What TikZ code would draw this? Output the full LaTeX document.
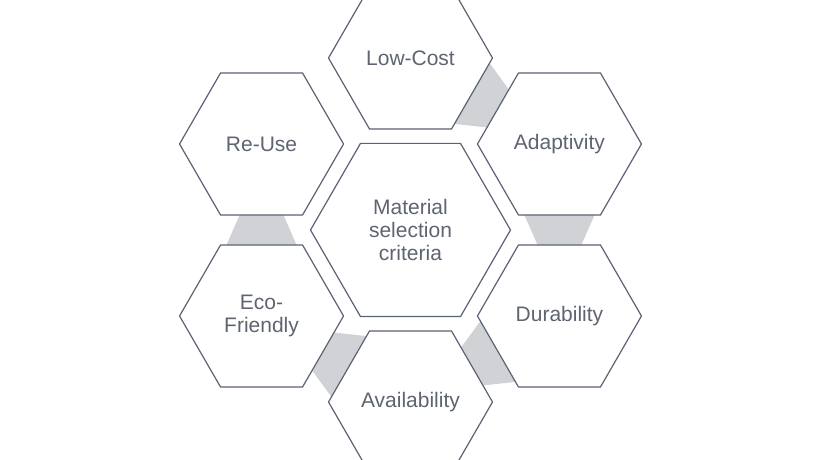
\documentclass[tikz,border=0pt]{standalone}
\usepackage{fontspec}
\setmainfont{Liberation Sans}
\usepackage{tikz}
\usetikzlibrary{calc,positioning}
\usetikzlibrary{shapes.geometric,backgrounds}
\usepackage{xcolor}
\definecolor{hexline}{HTML}{5A6273}
\definecolor{hexgrey}{HTML}{D0D2D6}
\definecolor{hextext}{HTML}{5E6470}

\begin{document}
\begin{tikzpicture}[x=1pt, y=1pt,
		hex/.style = {draw=hexline, fill=white, line width=1.2pt, regular polygon, regular polygon sides=6, minimum size=164pt, inner sep=0pt, outer sep=0pt, text=hextext, align=center, font=\fontsize{21}{23}\selectfont},
		core/.style = {hex, minimum size=200pt},
		link/.style = {fill=hexgrey}]
		\useasboundingbox (0,0) rectangle (820,460);
		\node[core] (crit) at (410.5,230) {Material\\selection\\criteria};
		\node[hex] (cost) at ($(crit.center)+(90:172)$) {Low-Cost};
		\node[hex] (adapt) at ($(crit.center)+(30:172)$) {Adaptivity};
		\node[hex] (dur) at ($(crit.center)+(-30:172)$) {Durability};
		\node[hex] (avail) at ($(crit.center)+(-90:172)$) {Availability};
		\node[hex] (eco) at ($(crit.center)+(210:172)$) {Eco-\\Friendly};
		\node[hex] (reuse) at ($(crit.center)+(150:172)$) {Re-Use};
		\begin{scope}[on background layer]
		\fill[link] ($(cost.center)+(-30:69)+(60:36)$) -- ($(cost.center)+(-30:69)+(240:36)$) -- ($(adapt.center)+(150:69)+(240:21)$) -- ($(adapt.center)+(150:69)+(60:21)$) -- cycle;
		\fill[link] ($(adapt.center)+(-90:69)+(0:36)$) -- ($(adapt.center)+(-90:69)+(180:36)$) -- ($(dur.center)+(90:69)+(180:21)$) -- ($(dur.center)+(90:69)+(0:21)$) -- cycle;
		\fill[link] ($(dur.center)+(210:69)+(-60:36)$) -- ($(dur.center)+(210:69)+(120:36)$) -- ($(avail.center)+(30:69)+(120:21)$) -- ($(avail.center)+(30:69)+(-60:21)$) -- cycle;
		\fill[link] ($(avail.center)+(150:69)+(240:36)$) -- ($(avail.center)+(150:69)+(60:36)$) -- ($(eco.center)+(-30:69)+(60:21)$) -- ($(eco.center)+(-30:69)+(240:21)$) -- cycle;
		\fill[link] ($(eco.center)+(90:69)+(180:36)$) -- ($(eco.center)+(90:69)+(0:36)$) -- ($(reuse.center)+(-90:69)+(0:21)$) -- ($(reuse.center)+(-90:69)+(180:21)$) -- cycle;
		\end{scope}
	\end{tikzpicture}
\end{document}
